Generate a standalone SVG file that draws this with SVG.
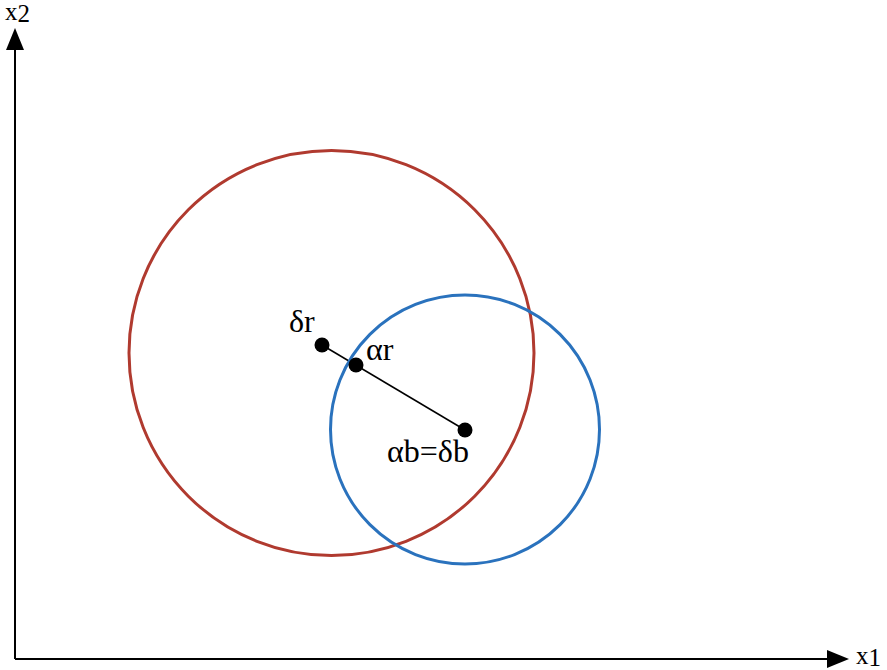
<svg xmlns="http://www.w3.org/2000/svg" width="887" height="670" viewBox="0 0 887 670">
<style>
.t{font-family:'Liberation Serif','Times New Roman',serif;font-size:32px;fill:#000}
.a{font-family:'Liberation Serif','Times New Roman',serif;font-size:25px;fill:#000}
.ax{stroke:#000;stroke-width:2;fill:none}
.dot{fill:#000}
</style>
<rect width="887" height="670" fill="#fff"/>
<g id="connectors">
<path class="ax" d="M15,659 L15,45"/>
<path class="ax" d="M15,659 L832,659"/>
<path d="M15,28 L6,50 L24,50 Z" fill="#000"/>
<path d="M849,659 L827,650 L827,668 Z" fill="#000"/>
<line x1="322" y1="345" x2="465" y2="430" stroke="#000" stroke-width="1.5"/>
</g>
<g id="red-circle"><circle cx="331.5" cy="353" r="202.5" fill="none" stroke="#b03a2f" stroke-width="3"/></g>
<g id="blue-circle"><circle cx="465" cy="429.5" r="134.5" fill="none" stroke="#2a72bd" stroke-width="3"/></g>
<g id="delta-r"><circle class="dot" cx="322" cy="345" r="7.5"/><text class="t" x="289" y="332">δr</text></g>
<g id="alpha-r"><circle class="dot" cx="356" cy="365" r="7.5"/><text class="t" x="366" y="360">αr</text></g>
<g id="alpha-b"><circle class="dot" cx="465" cy="430" r="7.5"/><text class="t" x="387" y="462">αb=δb</text></g>
<g id="x2-label"><text class="a" x="5" y="20">x<tspan dy="2">2</tspan></text></g>
<g id="x1-label"><text class="a" x="856" y="664">x<tspan dy="2">1</tspan></text></g>
</svg>
